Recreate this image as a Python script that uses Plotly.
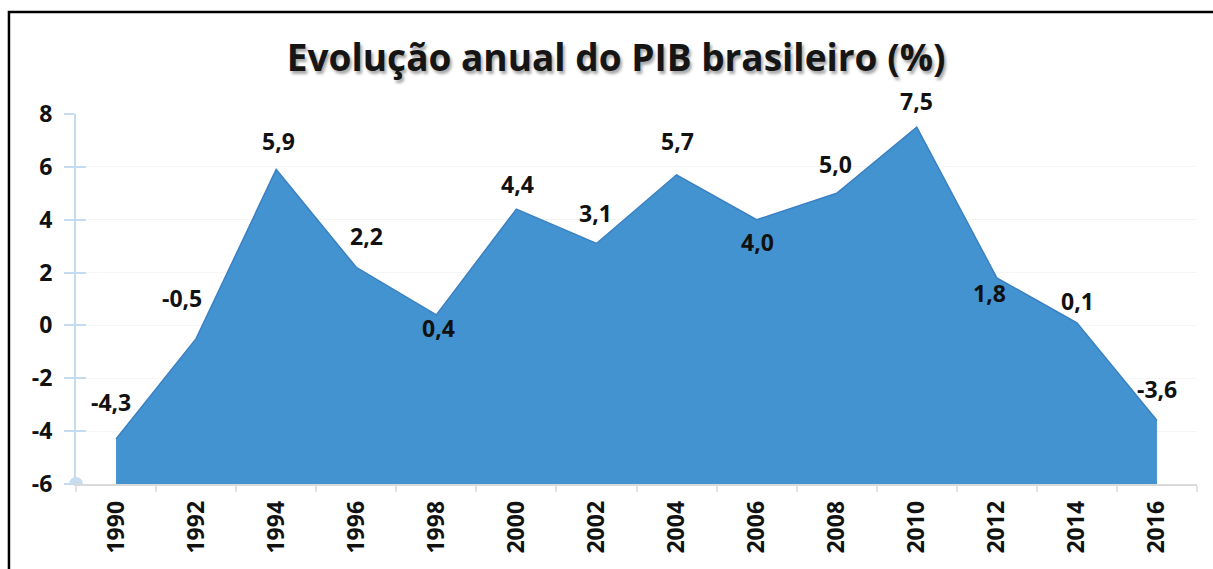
import plotly.graph_objects as go

# Dados: variação anual do PIB (%)
YEARS = ["1990", "1992", "1994", "1996", "1998", "2000", "2002",
         "2004", "2006", "2008", "2010", "2012", "2014", "2016"]
PIB = [-4.3, -0.5, 5.9, 2.2, 0.4, 4.4, 3.1, 5.7, 4.0, 5.0, 7.5, 1.8, 0.1, -3.6]
LABELS = ["-4,3", "-0,5", "5,9", "2,2", "0,4", "4,4", "3,1",
          "5,7", "4,0", "5,0", "7,5", "1,8", "0,1", "-3,6"]
Y_TICKS = [-6, -4, -2, 0, 2, 4, 6, 8]
Y_TICK_TEXT = ["-6", "-4", "-2", "0", "2", "4", "6", "8"]

Y_MIN, Y_MAX = -6, 8

# deslocamento dos rótulos (px) em relação ao ponto
LABEL_SHIFT = {
    "1990": (-5, 37), "1992": (-14, 41), "1994": (2, 29), "1996": (10, 31),
    "1998": (2, -13), "2000": (1, 25), "2002": (-1, 31), "2004": (1, 34),
    "2006": (1, -22), "2008": (-1, 29), "2010": (0, 26), "2012": (-7, -15),
    "2014": (1, 22), "2016": (0, 32),
}

FONT = "Open Sans"
AXIS_BLUE = "#c5dbf0"
TEXT_FONT = {"family": FONT, "size": 23, "color": "#111111", "weight": "bold"}

fig = go.Figure()

# linha de base no mínimo do eixo, para a área preencher até -6
fig.add_trace(go.Scatter(
    x=YEARS, y=[Y_MIN] * len(YEARS), mode="lines",
    line={"width": 0}, hoverinfo="skip", showlegend=False,
))
fig.add_trace(go.Scatter(
    x=YEARS, y=PIB, mode="lines", fill="tonexty",
    fillcolor="#4393d0", line={"color": "#3a80c2", "width": 1.5},
    showlegend=False,
))

# eixo secundário só para desenhar as marcas cruzadas do eixo Y
fig.add_trace(go.Scatter(x=[YEARS[0]], y=[None], yaxis="y2",
                         showlegend=False, hoverinfo="skip"))

annotations = []
for i, (year, value, label) in enumerate(zip(YEARS, PIB, LABELS)):
    dx, dy = LABEL_SHIFT[year]
    # no eixo de categorias a anotação usa o índice da categoria
    annotations.append({
        "x": i, "y": value, "xref": "x", "yref": "y",
        "text": label, "showarrow": False,
        "xshift": dx, "yshift": dy,
        "font": TEXT_FONT,
    })

fig.update_layout(
    width=1213, height=569,
    margin={"l": 76, "r": 16, "t": 114, "b": 85},
    paper_bgcolor="white", plot_bgcolor="white",
    title={
        "text": "Evolução anual do PIB brasileiro (%)",
        "x": 0.508, "xanchor": "center", "xref": "container",
        "y": 0.898, "yanchor": "middle", "yref": "container",
        "font": {"family": FONT, "size": 37, "color": "#151515", "weight": "bold",
                 "shadow": "2px 3px 3px rgba(0,0,0,0.35)"},
    },
    xaxis={
        "type": "category", "range": [-0.5, len(YEARS) - 0.5],
        "showgrid": False, "showline": True, "linecolor": "#d9d9d9", "linewidth": 1.5,
        "ticks": "outside", "tickson": "boundaries", "ticklen": 6,
        "tickcolor": "#e3e3e3", "tickwidth": 1.5,
        "tickangle": -90, "ticklabelstandoff": 6,
        "tickfont": TEXT_FONT,
        "fixedrange": True,
    },
    yaxis={
        "range": [Y_MIN, Y_MAX], "tickvals": Y_TICKS, "ticktext": Y_TICK_TEXT,
        "showgrid": True, "gridcolor": "#f5f5f5", "gridwidth": 1,
        "zeroline": False,
        "showline": True, "linecolor": AXIS_BLUE, "linewidth": 2,
        "ticks": "outside", "ticklen": 10, "tickwidth": 2, "tickcolor": AXIS_BLUE,
        "ticklabelstandoff": 7,
        "tickfont": TEXT_FONT,
        "fixedrange": True,
    },
    yaxis2={
        "overlaying": "y", "side": "left", "range": [Y_MIN, Y_MAX],
        "tickvals": Y_TICKS, "showticklabels": False, "showgrid": False,
        "zeroline": False, "showline": False,
        "ticks": "inside", "ticklen": 10, "tickwidth": 2, "tickcolor": AXIS_BLUE,
        "fixedrange": True,
    },
    annotations=annotations,
    shapes=[
        # moldura preta do gráfico
        {"type": "rect", "xref": "paper", "yref": "paper",
         "x0": -0.0598, "x1": 1.2, "y0": -0.5, "y1": 1.2757,
         "line": {"color": "black", "width": 2.5}, "layer": "above"},
        # ponto na origem do eixo Y
        {"type": "circle", "xref": "paper", "yref": "y",
         "xsizemode": "pixel", "xanchor": 0, "x0": -7, "x1": 7,
         "ysizemode": "pixel", "yanchor": Y_MIN, "y0": -7, "y1": 7,
         "fillcolor": "#c8dcf0", "line": {"width": 0}, "layer": "above"},
    ],
)

# sem a margem padrão do <body>, para a figura ocupar a janela inteira
fig.write_html(
    "out.html",
    config={"displayModeBar": False},
    post_script="document.body.style.margin = '0';",
)
